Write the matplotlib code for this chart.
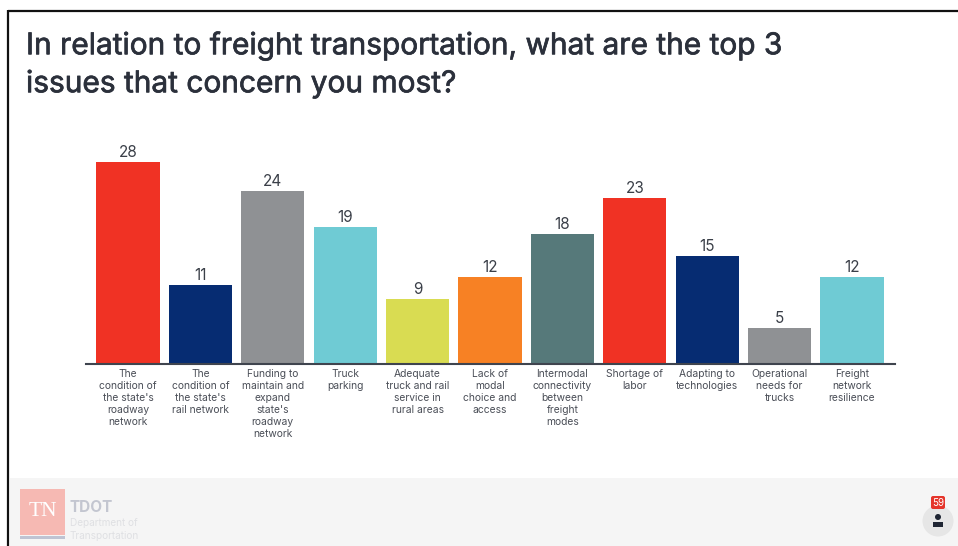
import matplotlib
matplotlib.use("Agg")
import matplotlib.pyplot as plt
import matplotlib.patheffects as pe
from matplotlib.patches import Rectangle, Circle, FancyBboxPatch

categories = [
    "The\ncondition of\nthe state's\nroadway\nnetwork",
    "The\ncondition of\nthe state's\nrail network",
    "Funding to\nmaintain and\nexpand\nstate's\nroadway\nnetwork",
    "Truck\nparking",
    "Adequate\ntruck and rail\nservice in\nrural areas",
    "Lack of\nmodal\nchoice and\naccess",
    "Intermodal\nconnectivity\nbetween\nfreight\nmodes",
    "Shortage of\nlabor",
    "Adapting to\ntechnologies",
    "Operational\nneeds for\ntrucks",
    "Freight\nnetwork\nresilience",
]
values = [28, 11, 24, 19, 9, 12, 18, 23, 15, 5, 12]
colors = ["#F03224", "#062C72", "#8F9194", "#6FCBD4", "#D9DC52", "#F78124",
          "#56797A", "#F03224", "#062C72", "#8F9194", "#6FCBD4"]
title = "In relation to freight transportation, what are the top 3\nissues that concern you most?"

W, H = 958, 546
fig = plt.figure(figsize=(W / 100, H / 100), dpi=100, facecolor="white")
plt.rcParams["font.family"] = ["Inter", "DejaVu Sans"]

# Slide furniture, laid out in pixel coordinates
bg = fig.add_axes([0, 0, 1, 1], zorder=0)
bg.set_xlim(0, W)
bg.set_ylim(H, 0)
bg.axis("off")
bg.add_patch(Rectangle((10, 478), W - 10, H - 478, fc="#F5F5F5", ec="none"))
bg.plot([8.5, 8.5], [10, H], color="#111111", lw=1.6, solid_capstyle="butt")
bg.plot([8, W], [10.5, 10.5], color="#111111", lw=1.6, solid_capstyle="butt")
line1, line2 = title.split("\n")
heavier = [pe.withStroke(linewidth=0.5, foreground="#2B303B")]
bg.text(26, 46, line1, fontsize=21.5, color="#2B303B", va="center", ha="left", path_effects=heavier)
bg.text(26, 84, line2, fontsize=21.5, color="#2B303B", va="center", ha="left", path_effects=heavier)

# Faded department logo in the footer
bg.add_patch(Rectangle((20, 489), 45, 46, fc="#F6B9B3", ec="none"))
bg.text(42.5, 511, "TN", fontsize=15.5, family="Liberation Serif", color="white", ha="center", va="center")
bg.add_patch(Rectangle((20, 536), 45, 3, fc="#BFC3D2", ec="none"))
bg.text(70, 508, "TDOT", fontsize=11, weight="bold", color="#C3C6D0", ha="left", va="center")
bg.text(70, 523, "Department of", fontsize=7.2, color="#DFE0E3", ha="left", va="center")
bg.text(70, 536, "Transportation", fontsize=7.2, color="#DFE0E3", ha="left", va="center")

# Participant counter in the bottom right corner
bg.add_patch(Circle((938, 521), 15.5, fc="#E6E6E6", ec="none"))
bg.add_patch(Circle((938, 517), 3, fc="#1F2533", ec="none"))
bg.add_patch(Rectangle((933, 522), 10, 5, fc="#1F2533", ec="none"))
bg.add_patch(FancyBboxPatch((931, 496), 14, 13, boxstyle="round,pad=0,rounding_size=2", fc="#E5352B", ec="none"))
bg.text(938, 502.5, "59", fontsize=7, color="white", ha="center", va="center")

# Bar chart
left, right, top, base = 86, 895, 140, 364
ax = fig.add_axes([left / W, 1 - base / H, (right - left) / W, (base - top) / H], zorder=1)
ax.patch.set_alpha(0)
step = (852 - 128) / 10
ax.set_xlim((left - 128) / step, (right - 128) / step)
ax.set_ylim(0, (base - top) / (202 / 28))
positions = range(len(values))
ax.bar(positions, values, width=0.875, color=colors)
for x, v in zip(positions, values):
    ax.annotate(str(v), (x, v), xytext=(0, 2), textcoords="offset pixels",
                ha="center", va="bottom", fontsize=11, color="#3A3F48")
ax.set_yticks([])
ax.set_xticks(list(positions))
ax.set_xticklabels(categories, fontsize=7.4, color="#4A4E57", linespacing=1.25)
ax.tick_params(axis="x", length=0, pad=3.5)
for side in ("top", "left", "right"):
    ax.spines[side].set_visible(False)
ax.spines["bottom"].set_color("#3F444E")
ax.spines["bottom"].set_linewidth(1.5)

fig.savefig("out.png", dpi=100)
